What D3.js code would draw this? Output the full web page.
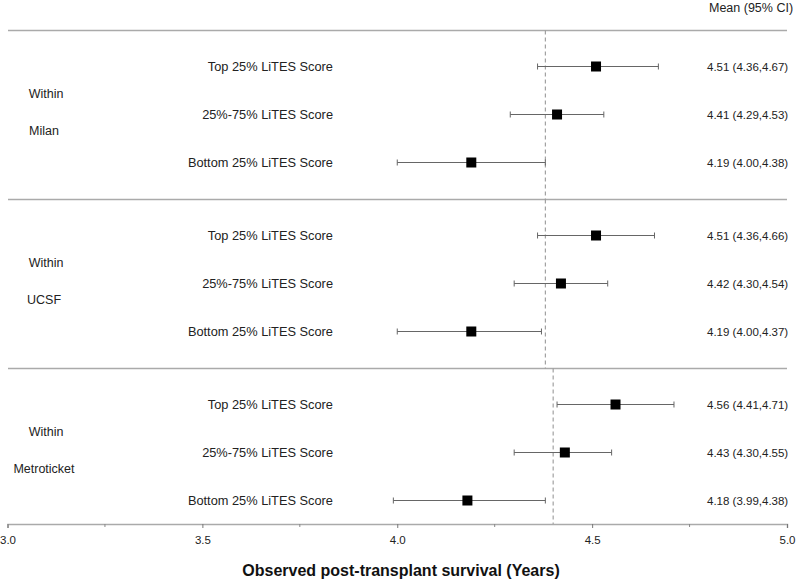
<!DOCTYPE html>
<html>
<head>
<meta charset="utf-8">
<script src="https://cdn.jsdelivr.net/npm/d3@7"></script>
<style>
  body { margin: 0; background: #fff; }
  svg { display: block; font-family: "Liberation Sans", Arial, sans-serif; }
</style>
</head>
<body>
<svg id="chart" width="800" height="581"></svg>
<script>
// ---- data ----
const groups = ["Milan", "UCSF", "Metroticket"];
const groupPrefix = ["Within", "Within", "Within"];
const rowLabels = ["Top 25% LiTES Score", "25%-75% LiTES Score", "Bottom 25% LiTES Score"];
const means = [[4.51, 4.41, 4.19], [4.51, 4.42, 4.19], [4.56, 4.43, 4.18]];
const lower = [[4.36, 4.29, 4.00], [4.36, 4.30, 4.00], [4.41, 4.30, 3.99]];
const upper = [[4.67, 4.53, 4.38], [4.66, 4.54, 4.37], [4.71, 4.55, 4.38]];
const refLines = [4.38, 4.38, 4.40];
const xTicks = [3.0, 3.5, 4.0, 4.5, 5.0];
const xMinorTicks = [3.25, 3.75, 4.25, 4.75];
const headerText = "Mean (95% CI)";
const xTitle = "Observed post-transplant survival (Years)";

// ---- layout ----
const svg = d3.select("#chart");
const x = d3.scaleLinear().domain([3.0, 5.0]).range([7.5, 787]);
const axisY = 524;
const sectionTop = 30.5;
const sectionH = 169;
const rowY = (g, r) => sectionTop + 36 + g * sectionH + r * 48;
const gray = "#aaaaaa";

// header
svg.append("text").attr("x", 709).attr("y", 12).attr("font-size", 12.5)
  .attr("fill", "#222").text(headerText);

// separators
[0, 1, 2].forEach(g => {
  svg.append("line").attr("x1", 8).attr("x2", 787)
    .attr("y1", sectionTop + g * sectionH).attr("y2", sectionTop + g * sectionH)
    .attr("stroke", gray).attr("stroke-width", 1.5);
});

groups.forEach((grp, g) => {
  const y0 = sectionTop + g * sectionH;
  // reference dashed line
  svg.append("line")
    .attr("x1", x(refLines[g])).attr("x2", x(refLines[g]))
    .attr("y1", y0).attr("y2", g === 2 ? axisY : y0 + sectionH)
    .attr("stroke", "#999").attr("stroke-width", 1.1)
    .attr("stroke-dasharray", "4,3");

  // group labels
  svg.append("text").attr("x", 46).attr("y", y0 + 67).attr("text-anchor", "middle")
    .attr("font-size", 12.5).attr("fill", "#222").text(groupPrefix[g]);
  svg.append("text").attr("x", 44).attr("y", y0 + 104).attr("text-anchor", "middle")
    .attr("font-size", 12.5).attr("fill", "#222").text(grp);

  rowLabels.forEach((lab, r) => {
    const y = rowY(g, r);
    svg.append("text").attr("x", 333).attr("y", y + 4.5).attr("text-anchor", "end")
      .attr("font-size", 12.8).attr("fill", "#222").text(lab);
    // CI line
    svg.append("line").attr("x1", x(lower[g][r])).attr("x2", x(upper[g][r]))
      .attr("y1", y).attr("y2", y).attr("stroke", "#666").attr("stroke-width", 1);
    [lower[g][r], upper[g][r]].forEach(v => {
      svg.append("line").attr("x1", x(v)).attr("x2", x(v))
        .attr("y1", y - 3).attr("y2", y + 3).attr("stroke", "#666").attr("stroke-width", 1);
    });
    // square
    svg.append("rect").attr("x", x(means[g][r]) - 5).attr("y", y - 5)
      .attr("width", 10).attr("height", 10).attr("fill", "#000");
    // value text
    svg.append("text").attr("x", 707).attr("y", y + 4.5).attr("font-size", 11.5)
      .attr("fill", "#222")
      .text(`${means[g][r].toFixed(2)} (${lower[g][r].toFixed(2)},${upper[g][r].toFixed(2)})`);
  });
});

// x axis
const axisG = svg.append("g").attr("transform", `translate(0,${axisY})`);
axisG.call(d3.axisBottom(x).tickValues(xTicks).tickFormat(d3.format(".1f")).tickSize(4).tickPadding(8));
axisG.select(".domain").attr("stroke", gray).attr("stroke-width", 1.5);
axisG.selectAll(".tick line").attr("stroke", "#777");
axisG.selectAll(".tick text").attr("font-size", 11.5).attr("fill", "#222")
  .attr("font-family", "Liberation Sans, Arial, sans-serif");
axisG.selectAll(".minor").data(xMinorTicks).enter().append("line")
  .attr("x1", d => x(d)).attr("x2", d => x(d)).attr("y1", 0).attr("y2", 3)
  .attr("stroke", "#888");

// axis title
svg.append("text").attr("x", 401).attr("y", 576).attr("text-anchor", "middle")
  .attr("font-size", 16).attr("font-weight", "bold").attr("fill", "#111").text(xTitle);
</script>
</body>
</html>
